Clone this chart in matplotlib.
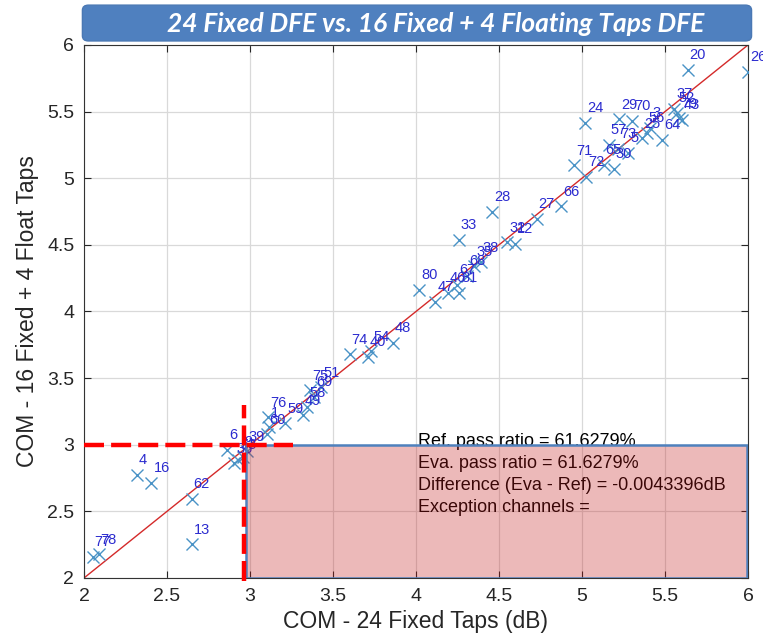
import matplotlib
matplotlib.use("Agg")
import matplotlib.pyplot as plt
from matplotlib.patches import Rectangle, FancyBboxPatch

# COM per channel: 24 fixed taps (x) vs 16 fixed + 4 floating taps (y)
channel_ids = [77, 78, 4, 16, 62, 13, 6, 36, 53, 9, 39,
               60, 1, 76, 59, 49, 58, 69, 75, 51, 74, 40, 54, 48,
               80, 47, 46, 81, 67, 68, 35, 38, 33, 28, 32, 12, 27, 66,
               71, 72, 65, 30, 57, 73, 5, 24, 29, 70, 25, 56, 3, 64,
               37, 52, 79, 43, 20, 26]
com_fixed24 = [2.052, 2.088, 2.318, 2.406, 2.648, 2.648, 2.862, 2.905, 2.930, 2.955, 2.980,
               3.103, 3.115, 3.110, 3.211, 3.318, 3.343, 3.385, 3.360, 3.430, 3.600, 3.710, 3.730, 3.860,
               4.017, 4.117, 4.190, 4.260, 4.250, 4.310, 4.350, 4.390, 4.257, 4.457, 4.550, 4.597, 4.727, 4.876,
               4.950, 5.027, 5.130, 5.190, 5.160, 5.220, 5.280, 5.020, 5.226, 5.304, 5.360, 5.390, 5.410, 5.484,
               5.556, 5.570, 5.585, 5.600, 5.636, 6.000]
com_float = [2.158, 2.178, 2.776, 2.713, 2.593, 2.254, 2.964, 2.860, 2.885, 2.910, 2.950,
             3.077, 3.130, 3.205, 3.160, 3.220, 3.280, 3.360, 3.410, 3.430, 3.680, 3.660, 3.700, 3.765,
             4.162, 4.074, 4.140, 4.140, 4.200, 4.270, 4.340, 4.370, 4.539, 4.747, 4.520, 4.510, 4.695, 4.789,
             5.096, 5.011, 5.100, 5.070, 5.250, 5.220, 5.190, 5.418, 5.443, 5.430, 5.300, 5.340, 5.380, 5.287,
             5.520, 5.490, 5.450, 5.440, 5.815, 5.800]

ref_threshold = 3.0
stats_lines = ["Ref. pass ratio = 61.6279%",
               "Eva. pass ratio = 61.6279%",
               "Difference (Eva - Ref) = -0.0043396dB",
               "Exception channels ="]

plt.rcParams["font.family"] = ["Liberation Sans", "DejaVu Sans"]

fig = plt.figure(figsize=(7.63, 6.4), dpi=100)
ax = fig.add_axes([0.1101, 0.0969, 0.8702, 0.8328])

ax.set_xlim(2, 6)
ax.set_ylim(2, 6)
ax.set_xticks([2, 2.5, 3, 3.5, 4, 4.5, 5, 5.5, 6])
ax.set_yticks([2, 2.5, 3, 3.5, 4, 4.5, 5, 5.5, 6])
ax.set_xticklabels(["2", "2.5", "3", "3.5", "4", "4.5", "5", "5.5", "6"])
ax.set_yticklabels(["2", "2.5", "3", "3.5", "4", "4.5", "5", "5.5", "6"])
ax.grid(True, color="#d9d9d9", linewidth=0.9, zorder=0)
ax.set_axisbelow(True)
ax.tick_params(direction="in", length=5, width=0.8, top=True, right=True,
               labelsize=14, pad=7, colors="#262626")
for s in ax.spines.values():
    s.set_color("#333333")
    s.set_linewidth(0.8)

# y = x reference
ax.plot([2, 6], [2, 6], color="#d42a2a", linewidth=1.0, zorder=2)

# channel markers and their ids
ax.plot(com_fixed24, com_float, linestyle="none", marker="x", markersize=8,
        markeredgewidth=1.0, color="#4a93c6", zorder=3)
for cid, x, y in zip(channel_ids, com_fixed24, com_float):
    ax.annotate(str(cid), (x, y), xytext=(1.5, 10.5), textcoords="offset points",
                ha="left", va="center", fontsize=10.5, color="#2b2bcf",
                annotation_clip=False, zorder=4)

# stats text sits under the fail region so it picks up its tint
ax.text(4.012, 3.09, "\n".join(stats_lines), ha="left", va="top",
        fontsize=13, linespacing=1.38, color="black", zorder=4)

fail_box = Rectangle((2.975, 2.0), 6.0 - 2.975 - 0.008, ref_threshold - 2.0,
                     facecolor=(0.76, 0.10, 0.10, 0.30), edgecolor="#4f81bd",
                     linewidth=1.8, zorder=5)
ax.add_patch(fail_box)

# threshold markers
ax.plot([2.0, 3.26], [ref_threshold, ref_threshold], color="#ff0000", linewidth=3.2,
        dashes=(4.5, 1.6), clip_on=False, zorder=6)
ax.plot([2.965, 2.965], [1.975, 3.30], color="#ff0000", linewidth=3.2,
        dashes=(4.5, 1.6), clip_on=False, zorder=6)

ax.set_xlabel("COM - 24 Fixed Taps (dB)", fontsize=16.5, labelpad=4, color="#262626")
ax.set_ylabel("COM - 16 Fixed + 4 Float Taps", fontsize=16.5, labelpad=6, color="#262626")

# banner title
banner = FancyBboxPatch((0.108, 0.936), 0.877, 0.056,
                        boxstyle="round,pad=0,rounding_size=0.008",
                        transform=fig.transFigure, facecolor="#4f80bf",
                        edgecolor="#4a78b4", linewidth=1.0, zorder=10)
fig.patches.append(banner)
fig.text(0.571, 0.963, "24 Fixed DFE vs. 16 Fixed + 4 Floating Taps DFE",
         ha="center", va="center", fontsize=19, color="white",
         family="Lato", fontweight="bold", fontstyle="italic", zorder=11)

fig.savefig("out.png", dpi=100)
